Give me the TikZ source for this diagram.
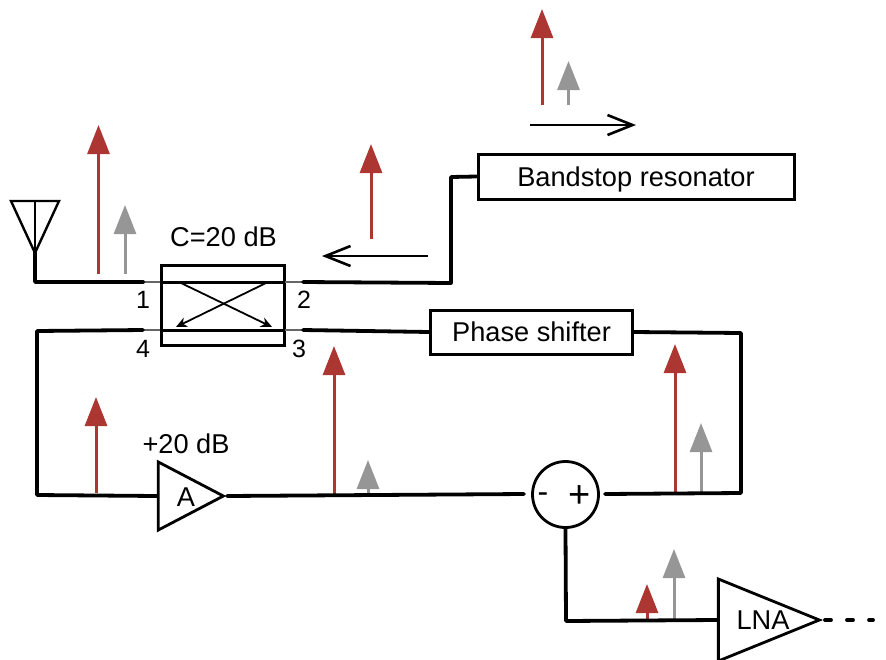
\documentclass[tikz,border=0pt]{standalone}
\usepackage{fontspec}
\setmainfont{Liberation Sans}
\usepackage{xcolor}
\usetikzlibrary{arrows.meta,positioning,shapes.geometric}
\definecolor{sigred}{RGB}{172,54,50}
\definecolor{sigblue}{RGB}{150,150,150}

\begin{document}
\begin{tikzpicture}[
    x=1pt, y=-1pt,
    box/.style={rectangle, draw, line width=3pt, inner sep=0pt},
    amp/.style={isosceles triangle, isosceles triangle stretches, draw, line width=2.8pt, inner sep=0pt, shape border rotate=0, anchor=apex},
    summer/.style={circle, draw, line width=2.8pt, inner sep=0pt, minimum size=66pt},
    wire/.style={line width=3.8pt, line join=round, line cap=round},
    stub/.style={line width=1.2pt, black!60},
    thru/.style={line width=3pt},
    carrier/.style={-{Triangle[length=29pt,width=22pt]}, line width=3pt, sigred},
    leak/.style={-{Triangle[length=29pt,width=22pt]}, line width=3pt, sigblue},
    travel/.style={-{Straight Barb[length=25pt,width=20pt]}, line width=2.6pt},
    couple/.style={-{Stealth[length=11pt,width=10pt]}, line width=1.8pt},
    every node/.style={font=\fontsize{27.2}{30}\selectfont}
]
\useasboundingbox (0,0) rectangle (886,659);

% Spectrum: top right
\coordinate (ttop) at (542,105); \coordinate (ttoq) at (542,9);
\coordinate (ltop) at (568.5,105); \coordinate (ltoq) at (568.5,61);
\draw[carrier] (ttop) -- (ttoq);
\draw[leak] (ltop) -- (ltoq);

% Spectrum: reflected
\coordinate (trfl) at (371,239); \coordinate (trfm) at (371,144);
\draw[carrier] (trfl) -- (trfm);

% Spectrum: antenna
\coordinate (tant) at (98.5,274); \coordinate (tanu) at (98.5,125);
\coordinate (lant) at (125,274); \coordinate (lanu) at (125,205);
\draw[carrier] (tant) -- (tanu);
\draw[leak] (lant) -- (lanu);

% Spectrum: loop
\coordinate (tamp) at (96,493); \coordinate (tamq) at (96,397);
\coordinate (tout) at (334,494); \coordinate (touu) at (334,346);
\coordinate (lout) at (368,493); \coordinate (louu) at (368,460);
\coordinate (trgt) at (675,494); \coordinate (trgu) at (675,344);
\coordinate (lrgt) at (701,493); \coordinate (lrgu) at (701,423);
\draw[carrier] (tamp) -- (tamq);
\draw[carrier] (tout) -- (touu);
\draw[leak] (lout) -- (louu);
\draw[carrier] (trgt) -- (trgu);
\draw[leak] (lrgt) -- (lrgu);

% Spectrum: receiver
\coordinate (tlna) at (647,619); \coordinate (tlnb) at (647,584);
\coordinate (llna) at (674,619); \coordinate (llnb) at (674,549);
\draw[carrier] (tlna) -- (tlnb);
\draw[leak] (llna) -- (llnb);

% Blocks
\node[box, minimum width=316pt, minimum height=45pt, text depth=0pt] (resonator) at (636,176.5) {Bandstop resonator};
\node[box, minimum width=202pt, minimum height=44pt] (shifter) at (531.5,332) {Phase shifter};
\node[box, minimum width=123pt, minimum height=80pt] (coupler) at (222.5,305) {};
\node[summer] (sum) at (565.5,494.5) {};
\node[amp, minimum width=68pt, minimum height=65pt] (pa) at (227,496) {};
\node[amp, minimum width=82pt, minimum height=101pt] (lna) at (823,620) {};

% Labels
\node[above=13pt of coupler, xshift=1pt] (clabel) {C=20 dB};
\node (glabel) at (186,444) {+20 dB};
\node (patext) at (186,497) {A};
\node (lnatext) at (763,620) {LNA};
\node[font=\fontsize{25}{28}\selectfont] (p1) at (143,300) {1};
\node[font=\fontsize{25}{28}\selectfont] (p2) at (304,300) {2};
\node[font=\fontsize{25}{28}\selectfont] (p3) at (299,349) {3};
\node[font=\fontsize{25}{28}\selectfont] (p4) at (143,349) {4};
\node[font=\fontsize{32}{34}\selectfont] (minus) at (543,498) {-};
\node[font=\fontsize{38}{40}\selectfont] (plus) at (579.5,497) {+};

% Antenna
\coordinate (anta) at (11,201);
\coordinate (antb) at (59,201);
\coordinate (antc) at (35,201);
\coordinate (antd) at (35,253);
\coordinate (ante) at (35,282);
\draw[line width=2.4pt, line join=miter] (anta) -- (antb) -- (antd) -- cycle;
\draw[line width=2.4pt] (antc) -- (antd);

% Coupler ports
\coordinate (c1a) at (143,282); \coordinate (c1b) at (160,282); \coordinate (c1c) at (285,282); \coordinate (c1d) at (303,282);
\coordinate (c2a) at (143,330); \coordinate (c2b) at (160,330); \coordinate (c2c) at (285,330); \coordinate (c2d) at (303,330);
\draw[stub] (c1a) -- (c1b);
\draw[stub] (c1c) -- (c1d);
\draw[stub] (c2a) -- (c2b);
\draw[stub] (c2c) -- (c2d);
\draw[thru] (c1b) -- (c1c);
\draw[thru] (c2b) -- (c2c);
\coordinate (x1) at (181,283); \coordinate (x2) at (272,327);
\coordinate (x3) at (266,283); \coordinate (x4) at (176,327);
\draw[couple] (x1) -- (x2);
\draw[couple] (x3) -- (x4);

% Wires
\coordinate (w1) at (451,283);
\coordinate (w2) at (451,177);
\coordinate (w3) at (741,333);
\coordinate (w4) at (741,493);
\coordinate (w5) at (605,494);
\coordinate (w6) at (37,331);
\coordinate (w7) at (37,495);
\coordinate (w8) at (524,494);
\coordinate (w9) at (566,621);
\draw[wire] (antd) -- (ante) -- (c1a);
\draw[wire] (c1d) -- (w1) -- (w2) -- (resonator.west);
\draw[wire] (c2d) -- (shifter.west);
\draw[wire] (shifter.east) -- (w3) -- (w4) -- (w5);
\draw[wire] (c2a) -- (w6) -- (w7) -- (pa.lower side);
\draw[wire] (pa.apex) -- (w8);
\draw[wire] (sum.south) -- (w9) -- (lna.lower side);

% Traveling direction
\coordinate (d1) at (530,125); \coordinate (d2) at (636,125);
\coordinate (d3) at (428,256); \coordinate (d4) at (322,256);
\draw[travel] (d1) -- (d2);
\draw[travel] (d3) -- (d4);

% Output
\coordinate (o1) at (873,620);
\draw[line width=3.8pt, line cap=round, dash pattern=on 6pt off 16pt, dash phase=20pt] (lna.apex) -- (o1);
\end{tikzpicture}
\end{document}
